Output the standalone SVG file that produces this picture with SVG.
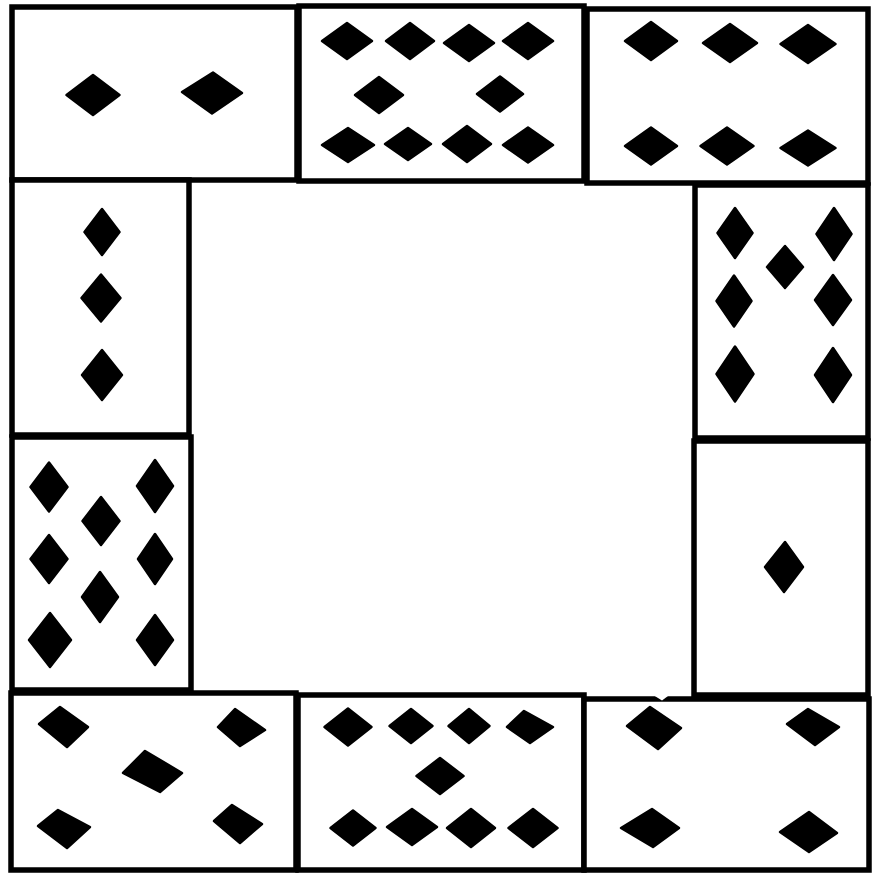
<svg xmlns="http://www.w3.org/2000/svg" width="874" height="875" viewBox="0 0 874 875">
<style>
.card{fill:#fff;stroke:#000;stroke-width:5.5}
.pip{fill:#000;stroke:#000;stroke-width:2.5;stroke-linejoin:round}
</style>
<rect width="874" height="875" fill="#fff"/>
<g id="card-top-1">
<rect class="card" x="12" y="7" width="285" height="173"/>
<polygon class="pip" points="66.5,95 93,75 119.5,95 93,115"/>
<polygon class="pip" points="182,92 213,72.5 242,93 212,113.5"/>
</g>
<g id="card-top-2">
<rect class="card" x="299" y="6" width="285" height="175"/>
<polygon class="pip" points="322,41 347,23 372,41 347,59"/>
<polygon class="pip" points="386,41 410,23 434,41 410,59"/>
<polygon class="pip" points="444,43 469,25 494,43 469,61"/>
<polygon class="pip" points="503,41 528,23 553,41 528,59"/>
<polygon class="pip" points="355,95 379,77 403,95 379,113"/>
<polygon class="pip" points="477,94 500,76.5 523,94 500,111.5"/>
<polygon class="pip" points="322,145 348,128 374,145 348,162"/>
<polygon class="pip" points="385,144 408,128 431,144 408,160"/>
<polygon class="pip" points="443,144 467,126 491,144 467,162"/>
<polygon class="pip" points="503,145 528,127.5 553,145 528,162.5"/>
</g>
<g id="card-top-3">
<rect class="card" x="587" y="9" width="281" height="174"/>
<polygon class="pip" points="625,41 651,22 677,41 651,60"/>
<polygon class="pip" points="703,43 730,24 757,43 730,62"/>
<polygon class="pip" points="780.5,44 808,25 835.5,44 808,63"/>
<polygon class="pip" points="625,146 651,127.5 677,146 651,164.5"/>
<polygon class="pip" points="700.5,146 727,127.5 753.5,146 727,164.5"/>
<polygon class="pip" points="780.5,148 808,130.5 835.5,148 808,165.5"/>
</g>
<g id="card-left-1">
<rect class="card" x="12" y="180" width="177" height="255"/>
<polygon class="pip" points="84.5,232 102,209 119.5,232 102,255"/>
<polygon class="pip" points="81.5,298 101,274.5 120.5,298 101,321.5"/>
<polygon class="pip" points="82,375 102,350 122,375 102,400"/>
</g>
<g id="card-left-2">
<rect class="card" x="12" y="437" width="179" height="253"/>
<polygon class="pip" points="30.5,487 49,462.5 67.5,487 49,511.5"/>
<polygon class="pip" points="137,486 155,460 173,486 155,512"/>
<polygon class="pip" points="82.5,521 101,497 119.5,521 101,545"/>
<polygon class="pip" points="30.5,559 49,535 67.5,559 49,583"/>
<polygon class="pip" points="138,559 155,534 172,559 155,584"/>
<polygon class="pip" points="82,597 100,572 118,597 100,622"/>
<polygon class="pip" points="29,640 50,613 71,640 50,667"/>
<polygon class="pip" points="137,640 155,615 173,640 155,665"/>
</g>
<g id="card-right-1">
<rect class="card" x="695" y="185" width="173" height="253"/>
<polygon class="pip" points="717.5,233 735,208 752.5,233 735,258"/>
<polygon class="pip" points="767,267 785,246 803,267 785,288"/>
<polygon class="pip" points="816.5,234 834,208 851.5,234 834,260"/>
<polygon class="pip" points="716.5,301 734,275.5 751.5,301 734,326.5"/>
<polygon class="pip" points="815,300 833,275 851,300 833,325"/>
<polygon class="pip" points="716.5,374 735,346.5 753.5,374 735,401.5"/>
<polygon class="pip" points="815,375 833,348 851,375 833,402"/>
</g>
<g id="card-right-2">
<rect class="card" x="694" y="441" width="174" height="254"/>
<polygon class="pip" points="765,567 785,542 803,567 784,592"/>
</g>
<g id="card-bottom-1">
<rect class="card" x="11" y="693" width="285" height="177"/>
<polygon class="pip" points="39,724 60,707 88,727 67,747"/>
<polygon class="pip" points="218,727 235,709 265,730 240,746"/>
<polygon class="pip" points="123,773 145,751 182,773 160,792"/>
<polygon class="pip" points="38,826 58,810 90,827 67,848"/>
<polygon class="pip" points="214,821 232,805 262,824 240,843"/>
</g>
<g id="card-bottom-2">
<rect class="card" x="298" y="695" width="286" height="175"/>
<polygon class="pip" points="324.5,727 348,708.5 371.5,727 348,745.5"/>
<polygon class="pip" points="389.5,726 411,709 432.5,726 411,743"/>
<polygon class="pip" points="448.5,726 469,709 489.5,726 469,743"/>
<polygon class="pip" points="507,727 524,711 553,727 530,743"/>
<polygon class="pip" points="416.5,776 440,758 463.5,776 440,794"/>
<polygon class="pip" points="330.5,828 353,810.5 375.5,828 353,845.5"/>
<polygon class="pip" points="387,827 412,809 437,827 412,845"/>
<polygon class="pip" points="447,828 471,809 495,828 471,847"/>
<polygon class="pip" points="508.5,828 533,809 557.5,828 533,847"/>
</g>
<g id="card-bottom-3">
<rect class="card" x="584" y="699" width="285" height="171"/>
<polygon class="pip" points="627,726 650,707 681,728 658,749"/>
<polygon class="pip" points="787,724 808,709 839,727 815,745"/>
<polygon class="pip" points="621,828 652,809 679,828 653,847"/>
<polygon class="pip" points="780,832 809,812 837,833 809,852"/>
</g>
<polygon points="650,693 672,693 662,700.5" fill="#fff"/>
</svg>
